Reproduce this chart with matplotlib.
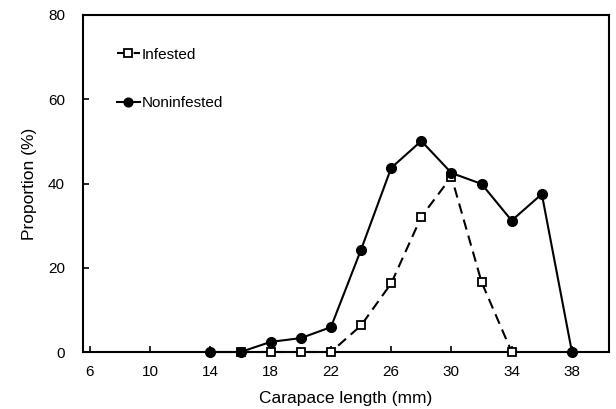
import matplotlib
matplotlib.use('Agg')
import matplotlib.pyplot as plt

plt.rcParams['font.family'] = ['Liberation Sans', 'DejaVu Sans']

# Datos
longitud_inf = [16, 18, 20, 22, 24, 26, 28, 30, 32, 34]
infestado = [0, 0, 0, 0, 6.3, 16.3, 32.1, 41.6, 16.6, 0]

longitud_non = [14, 16, 18, 20, 22, 24, 26, 28, 30, 32, 34, 36, 38]
no_infestado = [0, 0, 2.4, 3.3, 5.9, 24.3, 43.7, 50.1, 42.5, 39.9, 31.2, 37.5, 0]

xticks = [6, 10, 14, 18, 22, 26, 30, 34, 38]
yticks = [0, 20, 40, 60, 80]

fig = plt.figure(figsize=(6.16, 4.09), dpi=100)
ax = fig.add_axes([83 / 616, 57 / 409, 526 / 616, 337 / 409])

ax.plot(longitud_inf, infestado, color='black', linestyle=(0, (5, 3)), linewidth=1.5,
        marker='s', markersize=6, markerfacecolor='white', markeredgecolor='black',
        markeredgewidth=1.3, label='Infested', zorder=3, clip_on=False)
ax.plot(longitud_non, no_infestado, color='black', linestyle='-', linewidth=1.5,
        marker='o', markersize=7, markerfacecolor='black', markeredgecolor='black',
        label='Noninfested', zorder=4, clip_on=False)

ax.set_xlim(5.54, 40.46)
ax.set_ylim(0, 80)
ax.set_xticks(xticks)
ax.set_yticks(yticks)
ax.tick_params(direction='in', length=4, width=1.2, labelsize=11, colors='black')
ax.tick_params(axis='x', pad=9)
ax.tick_params(axis='y', pad=13)
for s in ax.spines.values():
    s.set_linewidth(1.5)

ax.set_xlabel('Carapace length (mm)', fontsize=12.5, labelpad=9)
ax.set_ylabel('Proportion (%)', fontsize=12.5, labelpad=8)

ax.legend(loc='upper left', bbox_to_anchor=(0.064, 0.903), frameon=False,
          borderaxespad=0, borderpad=0, fontsize=11, handlelength=1.5,
          handletextpad=0.15, labelspacing=2.25, markerscale=0.9)

fig.savefig('out.png', dpi=100)
